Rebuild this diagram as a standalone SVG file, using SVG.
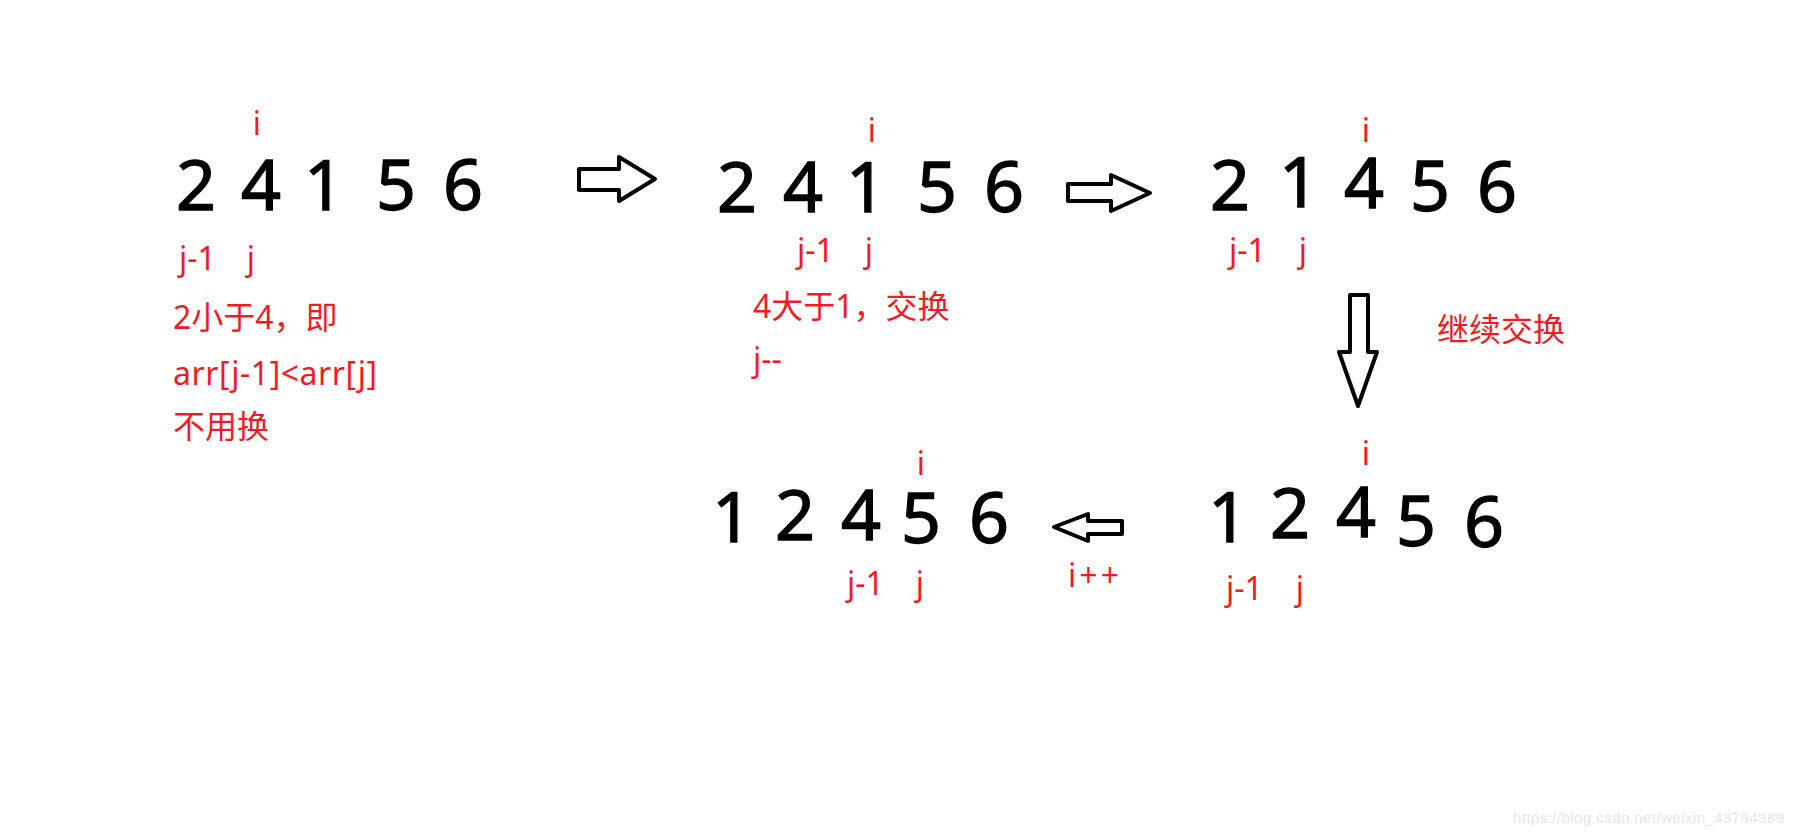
<svg xmlns="http://www.w3.org/2000/svg" width="1794" height="836" viewBox="0 0 1794 836">
<style>
.d{font-family:"Noto Sans","Liberation Sans",sans-serif;font-size:70px;fill:#000;stroke:#000;stroke-width:1.3;text-anchor:middle}
.r{font-family:"Noto Sans","Noto Sans CJK SC",sans-serif;font-size:32px;fill:#f01c24}
.m{text-anchor:middle}
.arrow{fill:#fff;stroke:#000;stroke-width:4;stroke-linejoin:round}
.wm{font-family:"Liberation Sans",sans-serif;font-size:15px;fill:#e6e6e6}
</style>
<rect width="1794" height="836" fill="#fff"/>
<g id="state1">
<text class="r m" x="257" y="135">i</text>
<text class="d" x="196" y="210">2</text>
<text class="d" x="261" y="210">4</text>
<text class="d" x="324" y="210">1</text>
<text class="d" x="396" y="210">5</text>
<text class="d" x="463" y="210">6</text>
<text class="r" x="179" y="270">j-1</text>
<text class="r m" x="251" y="270">j</text>
<text class="r" x="173" y="329">2小于4，即</text>
<text class="r" x="173" y="385" textLength="204">arr[j-1]&lt;arr[j]</text>
<text class="r" x="173" y="438">不用换</text>
</g>
<g id="state2">
<text class="r m" x="872" y="142">i</text>
<text class="d" x="737" y="212">2</text>
<text class="d" x="803" y="212">4</text>
<text class="d" x="866" y="212">1</text>
<text class="d" x="937" y="212">5</text>
<text class="d" x="1004" y="212">6</text>
<text class="r" x="797" y="262">j-1</text>
<text class="r m" x="869" y="262">j</text>
<text class="r" x="753" y="318">4大于1，交换</text>
<text class="r" x="753" y="371">j--</text>
</g>
<g id="state3">
<text class="r m" x="1366" y="142">i</text>
<text class="d" x="1230" y="210">2</text>
<text class="d" x="1299" y="207">1</text>
<text class="d" x="1364" y="208">4</text>
<text class="d" x="1430" y="211">5</text>
<text class="d" x="1497" y="212">6</text>
<text class="r" x="1229" y="262">j-1</text>
<text class="r m" x="1303" y="262">j</text>
</g>
<g id="note-continue">
<text class="r" x="1437" y="341">继续交换</text>
</g>
<g id="state4">
<text class="r m" x="1366" y="465">i</text>
<text class="d" x="1228" y="542">1</text>
<text class="d" x="1290" y="538">2</text>
<text class="d" x="1356" y="537">4</text>
<text class="d" x="1416" y="546">5</text>
<text class="d" x="1484" y="547">6</text>
<text class="r" x="1226" y="600">j-1</text>
<text class="r m" x="1300" y="600">j</text>
</g>
<g id="state5">
<text class="r m" x="921" y="475">i</text>
<text class="d" x="732" y="542">1</text>
<text class="d" x="795" y="540">2</text>
<text class="d" x="861" y="540">4</text>
<text class="d" x="921" y="543">5</text>
<text class="d" x="989" y="543">6</text>
<text class="r" x="847" y="595">j-1</text>
<text class="r m" x="920" y="595">j</text>
<text class="r" x="1068" y="587" textLength="51">i++</text>
</g>
<g id="connectors">
<path class="arrow" d="M579,169 L619,169 L619,157 L655,179 L619,201 L619,190 L579,190 Z"/>
<path class="arrow" d="M1068,184 L1111,184 L1111,175 L1150,193 L1111,211 L1111,201 L1068,201 Z"/>
<path class="arrow" d="M1350,295 L1368,295 L1368,352 L1377,352 L1358,406 L1339,352 L1350,352 Z"/>
<path class="arrow" d="M1054,527 L1088,514 L1088,521 L1122,521 L1122,534 L1088,534 L1088,541 Z"/>
</g>
<text class="wm" x="1513" y="823" textLength="271">https://blog.csdn.net/weixin_43784989</text>
</svg>
